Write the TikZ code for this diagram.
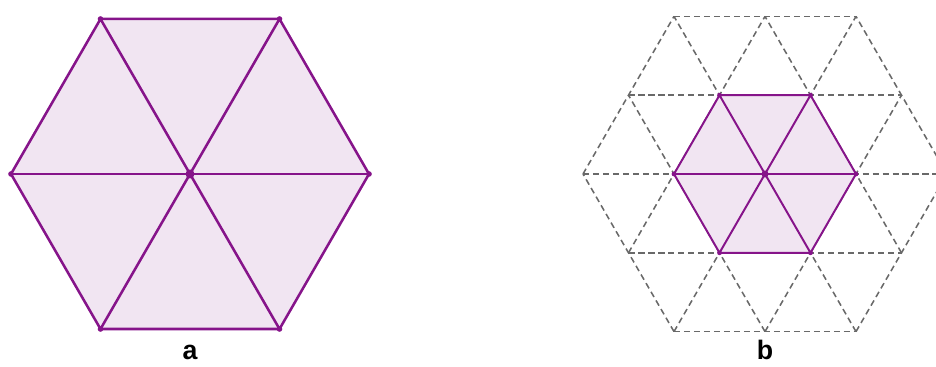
\documentclass[tikz,border=0pt]{standalone}
\usepackage{fontspec}
\setmainfont{Liberation Sans}
\usetikzlibrary{calc}
\definecolor{hexpurple}{RGB}{134,20,138}
\definecolor{hexpink}{RGB}{241,229,242}
\definecolor{gridgray}{RGB}{105,105,105}

\begin{document}
\begin{tikzpicture}[
  x=0.025cm, y=0.025cm,
  hexfill/.style={fill=hexpink},
  hexline/.style={draw=hexpurple, line width=1.8pt, line join=round, line cap=round},
  hexthin/.style={hexline, line width=1.4pt},
  gridline/.style={draw=gridgray, dash pattern=on 4.3pt off 2.8pt, line width=1.1pt},
  vdot/.style={circle, fill=hexpurple, inner sep=0pt, minimum size=4pt},
  cdot/.style={vdot, minimum size=6.4pt},
  lbl/.style={font=\bfseries\fontsize{19}{22}\selectfont, anchor=base}
]
\useasboundingbox (0,0) rectangle (936,367);
\clip (0,0) rectangle (936,367);
% ---- Figure a: hexagon split into six triangles ----
\coordinate (A) at (190,193);
\foreach \i in {0,...,5}
  \coordinate (A\i) at ($(A)+(\i*60:179)$);
\fill[hexfill] (A0) -- (A1) -- (A2) -- (A3) -- (A4) -- (A5) -- cycle;
\draw[hexline] (A0) -- (A1) -- (A2) -- (A3) -- (A4) -- (A5) -- cycle;
\draw[hexline] (A0) -- (A3);
\draw[hexline] (A1) -- (A4);
\draw[hexline] (A2) -- (A5);
\foreach \i in {0,...,5}
  \node[vdot] (a\i) at (A\i) {};
\node[cdot] (ac) at (A) {};
% ---- Figure b: dashed triangular grid ----
\coordinate (B) at (765,193);
\begin{scope}[shift={(B)}]
  \foreach \r in {0,60,120}
    \foreach \k in {-2,...,2}
      \draw[gridline, rotate=\r] ({-(4-abs(\k))/2*91},{\k*78.81}) -- ({(4-abs(\k))/2*91},{\k*78.81});
\end{scope}
% ---- Figure b: small hexagon on the grid ----
\foreach \i in {0,...,5}
  \coordinate (B\i) at ($(B)+(\i*60:91)$);
\fill[hexfill] (B0) -- (B1) -- (B2) -- (B3) -- (B4) -- (B5) -- cycle;
\draw[hexthin] (B0) -- (B1) -- (B2) -- (B3) -- (B4) -- (B5) -- cycle;
\draw[hexthin] (B0) -- (B3);
\draw[hexthin] (B1) -- (B4);
\draw[hexthin] (B2) -- (B5);
\foreach \i in {0,...,5}
  \node[vdot, minimum size=3.4pt] (b\i) at (B\i) {};
\node[cdot, minimum size=5pt] (bc) at (B) {};
% ---- Labels ----
\node[lbl] (la) at (190,7) {a};
\node[lbl] (lb) at (765,7) {b};
\end{tikzpicture}
\end{document}
